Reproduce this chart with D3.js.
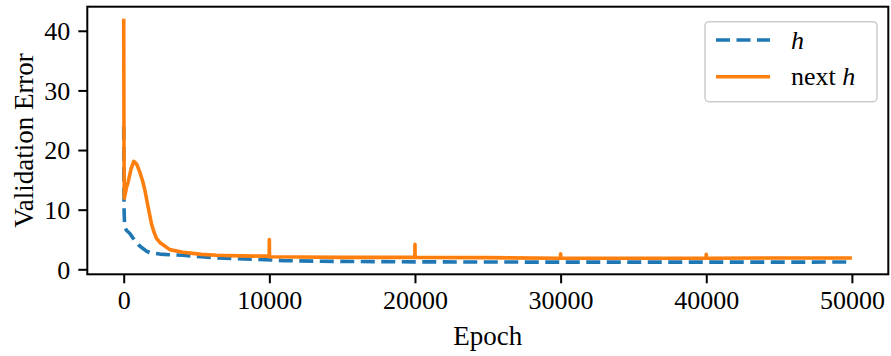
<!DOCTYPE html>
<html lang="en">
<head>
  <meta charset="utf-8" />
  <title>Validation Error</title>
  <style>
    body { margin: 0; background: #fff; }
    svg { display: block; font-family: "Liberation Serif", "DejaVu Serif", serif; }
    .tick text { font-size: 26px; fill: #000; font-family: "Liberation Serif", "DejaVu Serif", serif; }
    .tick line { stroke: #000; stroke-width: 2; }
  </style>
</head>
<body>
  <svg width="891" height="356"></svg>
  <script src="https://cdn.jsdelivr.net/npm/d3@7/dist/d3.min.js"></script>
  <script>
    // series "h" (blue, dashed)
    const epochsH = [0, 10, 30, 60, 100, 150, 200, 420, 760, 1100, 1560, 1790, 2480, 3160, 4060,
      5340, 6370, 8770, 10200, 11000, 13500, 16000, 20000, 25000, 30000, 35000, 40000, 45000, 50000];
    const valuesH = [24, 15, 9.5, 7.5, 7.0, 6.7, 6.5, 6.0, 4.8, 3.9, 3.05, 2.8, 2.55, 2.45, 2.35,
      2.1, 1.9, 1.7, 1.55, 1.45, 1.35, 1.3, 1.25, 1.22, 1.2, 1.2, 1.2, 1.2, 1.22];

    // series "next h" (orange, solid)
    const epochsN = [0, 20, 40, 100, 200, 300, 500, 690, 900, 1105, 1300, 1450, 1670, 1910, 2100, 2250,
      2480, 2820, 3160, 4060, 5340, 6370, 8000, 9545, 9990, 10000, 10010, 12000, 15000, 19990,
      20000, 20010, 25000, 29990, 30000, 30010, 35000, 39990, 40000, 40010, 45000, 50000];
    const valuesN = [42, 20, 11.9, 12.6, 13.8, 14.6, 16.8, 18.1, 17.6, 16.3, 14.8, 13.3, 10.5, 7.6, 6.1, 5.2,
      4.5, 3.9, 3.3, 2.85, 2.5, 2.35, 2.25, 2.2, 2.2, 5.0, 2.1, 2.05, 2.0, 2.0,
      4.2, 2.0, 1.95, 1.85, 2.6, 1.85, 1.85, 1.85, 2.5, 1.85, 1.9, 1.9];

    const xTicks = [0, 10000, 20000, 30000, 40000, 50000];
    const yTicks = [0, 10, 20, 30, 40];
    const seriesNames = ["h", "next h"];
    const colors = ["#1f77b4", "#ff7f0e"];

    const box = {left: 87.3, right: 888.3, top: 6.7, bottom: 274.3};
    const svg = d3.select("svg");

    // matplotlib style 5% margins
    const xExt = [0, 50000];
    const xPad = (xExt[1] - xExt[0]) * 0.05;
    const allY = valuesH.concat(valuesN);
    const yExt = d3.extent(allY);
    const yPad = (yExt[1] - yExt[0]) * 0.05;

    const x = d3.scaleLinear().domain([xExt[0] - xPad, xExt[1] + xPad]).range([box.left, box.right]);
    const y = d3.scaleLinear().domain([yExt[0] - yPad, yExt[1] + yPad]).range([box.bottom, box.top]);

    svg.append("clipPath").attr("id", "plotclip")
      .append("rect")
      .attr("x", box.left).attr("y", box.top)
      .attr("width", box.right - box.left).attr("height", box.bottom - box.top);

    const line = d3.line().x(d => x(d[0])).y(d => y(d[1]));

    const plot = svg.append("g").attr("clip-path", "url(#plotclip)");
    plot.append("path")
      .datum(d3.zip(epochsH, valuesH))
      .attr("d", line)
      .attr("fill", "none")
      .attr("stroke", colors[0])
      .attr("stroke-width", 3.6)
      .attr("stroke-dasharray", "14,6.5")
      .attr("stroke-linejoin", "round");
    plot.append("path")
      .datum(d3.zip(epochsN, valuesN))
      .attr("d", line)
      .attr("fill", "none")
      .attr("stroke", colors[1])
      .attr("stroke-width", 3.6)
      .attr("stroke-linejoin", "round");

    // axes
    const xAxis = svg.append("g")
      .attr("transform", `translate(0,${box.bottom})`)
      .call(d3.axisBottom(x).tickValues(xTicks).tickFormat(d3.format("d")).tickSize(9).tickPadding(7));
    xAxis.select(".domain").remove();

    const yAxis = svg.append("g")
      .attr("transform", `translate(${box.left},0)`)
      .call(d3.axisLeft(y).tickValues(yTicks).tickSize(9).tickPadding(8));
    yAxis.select(".domain").remove();
    yAxis.selectAll(".tick text").attr("dy", "0.34em");

    svg.selectAll("g").attr("font-family", null);

    svg.append("rect")
      .attr("x", box.left).attr("y", box.top)
      .attr("width", box.right - box.left).attr("height", box.bottom - box.top)
      .attr("fill", "none").attr("stroke", "#000").attr("stroke-width", 2);

    svg.append("text")
      .attr("x", (box.left + box.right) / 2)
      .attr("y", 345)
      .attr("text-anchor", "middle")
      .attr("font-size", 27)
      .text("Epoch");

    svg.append("text")
      .attr("transform", `translate(33,${(box.top + box.bottom) / 2}) rotate(-90)`)
      .attr("text-anchor", "middle")
      .attr("font-size", 27)
      .text("Validation Error");

    // legend
    const legend = svg.append("g");
    legend.append("rect")
      .attr("x", 705).attr("y", 21.7)
      .attr("width", 172).attr("height", 80)
      .attr("rx", 4)
      .attr("fill", "#fff").attr("fill-opacity", 0.8)
      .attr("stroke", "#cccccc").attr("stroke-width", 1.5);

    seriesNames.forEach((name, i) => {
      const ly = 40 + i * 36.7;
      legend.append("line")
        .attr("x1", 716).attr("x2", 770)
        .attr("y1", ly).attr("y2", ly)
        .attr("stroke", colors[i])
        .attr("stroke-width", 3.6)
        .attr("stroke-dasharray", i === 0 ? "14,6.5" : null);
      const t = legend.append("text")
        .attr("x", 791)
        .attr("y", ly + 8.5)
        .attr("font-size", 26);
      const parts = name.split(" ");
      if (parts.length > 1) {
        t.append("tspan").text(parts[0] + " ");
      }
      t.append("tspan").attr("font-style", "italic").text(parts[parts.length - 1]);
    });
  </script>
</body>
</html>
